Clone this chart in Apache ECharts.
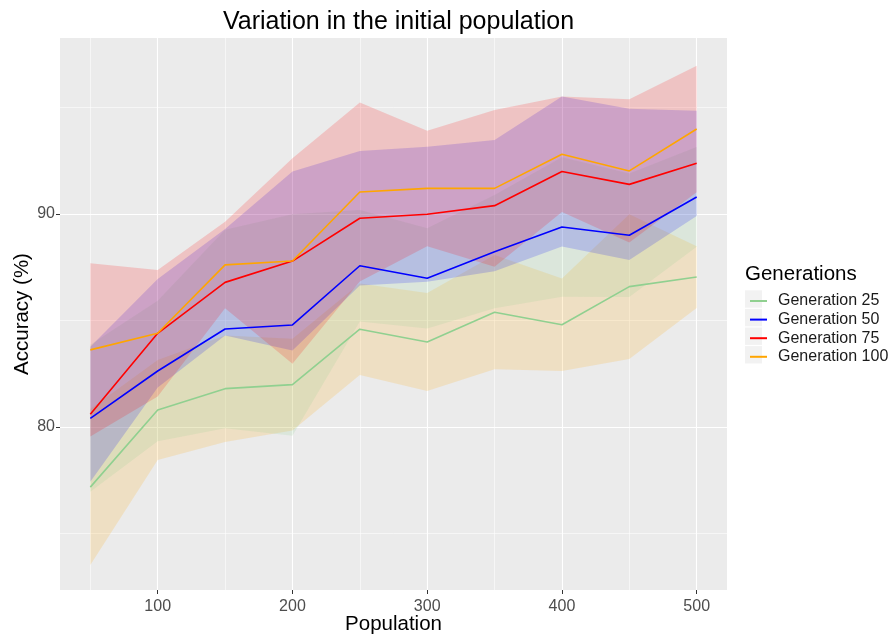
<!DOCTYPE html>
<html>
<head>
<meta charset="utf-8">
<script src="https://cdn.jsdelivr.net/npm/echarts@6/dist/echarts.min.js"></script>
<style>
html,body{margin:0;padding:0;background:#ffffff;}
#chart{width:895px;height:639px;}
</style>
</head>
<body>
<div id="chart"></div>
<script>
// ---- data ----
const populations = [50, 100, 150, 200, 250, 300, 350, 400, 450, 500];
const seriesNames = ['Generation 25', 'Generation 50', 'Generation 75', 'Generation 100'];
const gen25  = [77.18, 80.80, 81.80, 81.99, 84.59, 83.99, 85.39, 84.80, 86.59, 87.04];
const gen50  = [80.41, 82.63, 84.60, 84.79, 87.57, 86.98, 88.23, 89.39, 89.00, 90.80];
const gen75  = [80.60, 84.40, 86.79, 87.79, 89.80, 89.99, 90.39, 91.99, 91.39, 92.38];
const gen100 = [83.62, 84.40, 87.61, 87.79, 91.03, 91.20, 91.20, 92.80, 92.02, 93.99];
// half-widths of the shaded bands (mean +/- sd)
const sd25  = [3.66, 2.35, 2.50, 2.15, 2.15, 2.30, 2.68, 2.17, 3.40, 1.45];
const sd50  = [3.45, 3.30, 4.66, 5.20, 2.62, 2.35, 2.66, 3.27, 2.90, 2.34];
const sd75  = [3.17, 2.55, 2.50, 4.20, 3.16, 3.17, 3.08, 3.52, 3.55, 2.47];
const sd100 = [4.07, 2.97, 2.03, 4.82, 4.20, 2.71, 3.68, 2.71, 3.36, 2.97];
const xMajorTicks = [100, 200, 300, 400, 500];
const xMinorTicks = [50, 150, 250, 350, 450];
const yMajorTicks = [80, 90];
const yMinorTicks = [75, 85, 95];

const lineColors = ['#90d090', '#0000ff', '#ff0000', '#ffa500'];
// ribbons in the reference are filled with a shifted palette
const bandColors = ['rgba(255,165,0,0.17)', 'rgba(144,208,144,0.17)', 'rgba(0,0,255,0.17)', 'rgba(255,0,0,0.17)'];
const means = [gen25, gen50, gen75, gen100];
const sds = [sd25, sd50, sd75, sd100];

const FONT = 'Liberation Sans, Arial, Helvetica, sans-serif';
const series = [];
means.forEach((m, i) => {
  const bandData = populations.map((p, k) => [p, +(m[k] - sds[i][k]).toFixed(3), +(m[k] + sds[i][k]).toFixed(3)]);
  series.push({
    name: 'band-' + i, type: 'custom', silent: true, data: bandData,
    encode: { x: 0, y: [1, 2] },
    renderItem: function (params, api) {
      if (params.dataIndex !== 0) return null;
      const pts = [];
      for (let k = 0; k < bandData.length; k++) pts.push(api.coord([bandData[k][0], bandData[k][2]]));
      for (let k = bandData.length - 1; k >= 0; k--) pts.push(api.coord([bandData[k][0], bandData[k][1]]));
      return { type: 'polygon', shape: { points: pts }, style: { fill: bandColors[i], stroke: null } };
    }
  });
});
means.forEach((m, i) => {
  series.push({
    name: seriesNames[i], type: 'line', data: populations.map((p, k) => [p, m[k]]),
    symbol: 'none', color: lineColors[i], lineStyle: { width: 1.6, color: lineColors[i] }
  });
});

const xMin = 27.5, xMax = 522.5, yMin = 72.35, yMax = 98.26;
const chart = echarts.init(document.getElementById('chart'), null, { renderer: 'canvas' });
chart.setOption({
  animation: false,
  backgroundColor: '#ffffff',
  title: {
    text: 'Variation in the initial population', left: 393.5, top: 5, textAlign: 'center',
    textStyle: { fontFamily: FONT, fontSize: 25, fontWeight: 'normal', color: '#000000' }
  },
  grid: { left: 60, right: 168, top: 38, bottom: 49, show: true, backgroundColor: '#ebebeb', borderWidth: 0,
          containLabel: false, outerBoundsMode: 'none' },
  xAxis: [
    {
      type: 'value', min: xMin, max: xMax, position: 'bottom',
      name: 'Population', nameLocation: 'middle', nameGap: 24, nameMoveOverlap: false,
      nameTextStyle: { fontFamily: FONT, fontSize: 20.5, color: '#000000' },
      axisLine: { show: false },
      axisTick: { show: true, length: 4, customValues: xMajorTicks, lineStyle: { color: '#333333', width: 1 } },
      axisLabel: { customValues: xMajorTicks, margin: 9, fontFamily: FONT, fontSize: 16, color: '#4d4d4d' },
      splitLine: { show: true, lineStyle: { color: '#ffffff', width: 1.1 } }
    },
    {
      type: 'value', min: xMin, max: xMax, position: 'top',
      axisLine: { show: false },
      axisTick: { show: false, customValues: xMinorTicks },
      axisLabel: { show: false, customValues: xMinorTicks },
      splitLine: { show: true, lineStyle: { color: '#ffffff', width: 0.55 } }
    }
  ],
  yAxis: [
    {
      type: 'value', min: yMin, max: yMax, position: 'left',
      name: 'Accuracy (%)', nameLocation: 'middle', nameGap: 27, nameMoveOverlap: false,
      nameTextStyle: { fontFamily: FONT, fontSize: 20.5, color: '#000000' },
      axisLine: { show: false },
      axisTick: { show: true, length: 4, customValues: yMajorTicks, lineStyle: { color: '#333333', width: 1 } },
      axisLabel: { customValues: yMajorTicks, margin: 5, fontFamily: FONT, fontSize: 16, color: '#4d4d4d' },
      splitLine: { show: true, lineStyle: { color: '#ffffff', width: 1.1 } }
    },
    {
      type: 'value', min: yMin, max: yMax, position: 'right',
      axisLine: { show: false },
      axisTick: { show: false, customValues: yMinorTicks },
      axisLabel: { show: false, customValues: yMinorTicks },
      splitLine: { show: true, lineStyle: { color: '#ffffff', width: 0.55 } }
    }
  ],
  legend: {
    data: seriesNames, orient: 'vertical', left: 745, top: 286.7,
    icon: 'rect', itemWidth: 17, itemHeight: 2, itemGap: 0, selectedMode: false,
    textStyle: { fontFamily: FONT, fontSize: 16, color: '#1a1a1a', lineHeight: 18.6, padding: [0, 0, 0, 6] }
  },
  graphic: [
    { type: 'text', left: 745, top: 263.5, style: { text: 'Generations', font: '20.5px ' + FONT, fill: '#000000' } },
    { type: 'rect', left: 745, top: 290.3, shape: { width: 17, height: 17.4 }, style: { fill: '#f2f2f2' }, z: -1 },
    { type: 'rect', left: 745, top: 308.9, shape: { width: 17, height: 17.4 }, style: { fill: '#f2f2f2' }, z: -1 },
    { type: 'rect', left: 745, top: 327.5, shape: { width: 17, height: 17.4 }, style: { fill: '#f2f2f2' }, z: -1 },
    { type: 'rect', left: 745, top: 346.1, shape: { width: 17, height: 17.4 }, style: { fill: '#f2f2f2' }, z: -1 }
  ],
  series: series
});
</script>
</body>
</html>
